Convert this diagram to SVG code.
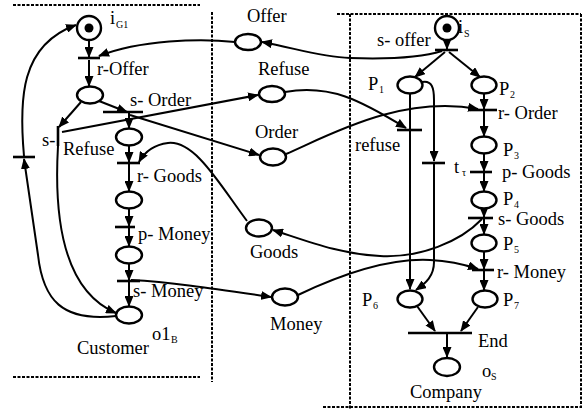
<svg xmlns="http://www.w3.org/2000/svg" width="583" height="410" viewBox="0 0 583 410">
<defs>
<marker id="ah" markerWidth="11" markerHeight="9" refX="10" refY="4.5" orient="auto" markerUnits="userSpaceOnUse"><path d="M0,0 L11,4.5 L0,9 z" fill="#000"/></marker>
<style>
.arc{fill:none;stroke:#000;stroke-width:2}
.arr{marker-end:url(#ah)}
.pl{fill:#fff;stroke:#000;stroke-width:2.4}
.tr{stroke:#000;stroke-width:2.6}
.fr{stroke:#000;stroke-width:2;stroke-dasharray:3 1.5}
text{font-family:"Liberation Serif","Times New Roman",serif;font-size:18.5px;fill:#000}
.sub{font-size:10px}
</style>
</defs>
<rect width="583" height="410" fill="#fff"/>
<g id="frames">
<line class="fr" x1="13" y1="5" x2="200" y2="5"/>
<line class="fr" x1="212" y1="12" x2="212" y2="382"/>
<line class="fr" x1="13" y1="377" x2="200" y2="377"/>
<line class="fr" x1="350" y1="14" x2="350" y2="410"/>
<line class="fr" x1="337" y1="14" x2="581" y2="14"/>
<line class="fr" x1="581" y1="14" x2="581" y2="408"/>
<line class="fr" x1="323" y1="407" x2="581" y2="407"/>
</g>
<g id="connectors">
<path class="arc arr" d="M89 40 L89 57"/>
<path class="arc arr" d="M89 60 L89 86"/>
<path class="arc arr" d="M99 101 L127 112"/>
<path class="arc arr" d="M81 102 L59 127"/>
<path class="arc arr" d="M129 113 L129 128"/>
<path class="arc arr" d="M129 146 L129 162"/>
<path class="arc arr" d="M129 164 L129 191"/>
<path class="arc arr" d="M129 209 L129 226"/>
<path class="arc arr" d="M129 228 L129 246"/>
<path class="arc arr" d="M129 264 L129 280"/>
<path class="arc arr" d="M129 282 L129 306"/>
<path class="arc arr" d="M58 146 C54 215 62 290 116 313"/>
<path class="arc arr" d="M116 316 C62 322 43 300 38 255 L24 159"/>
<path class="arc arr" d="M24 156 C19 100 20 45 76 25"/>
<path class="arc arr" d="M130 115 L259 155"/>
<path class="arc arr" d="M62 132 L258 95"/>
<path class="arc arr" d="M235 42 C200 38 140 40 99 56"/>
<path class="arc arr" d="M247 221 C220 185 195 140 168 143 C152 145 144 153 139 162"/>
<path class="arc arr" d="M131 280 C170 282 210 288 271 297"/>
<path class="arc arr" d="M442 51 C420 58 380 59 350 58 C320 57 295 48 262 42"/>
<path class="arc arr" d="M285 92 C330 84 360 100 406 128"/>
<path class="arc arr" d="M286 154 C330 135 400 95 478 109"/>
<path class="arc arr" d="M482 219 C460 242 420 258 380 256 C340 254 310 242 273 230"/>
<path class="arc arr" d="M298 295 C340 275 390 258 430 260 C452 261 466 265 478 269"/>
<path class="arc arr" d="M447 40 L447 49"/>
<path class="arc arr" d="M445 52 L415 77"/>
<path class="arc arr" d="M449 52 L480 77"/>
<path class="arc" d="M410 94 L410 129"/>
<path class="arc arr" d="M410 131 L410 289"/>
<path class="arc arr" d="M422 82 C432 80 434 88 434 100 L434 161"/>
<path class="arc arr" d="M434 164 L434 262 C434 276 426 283 416 290"/>
<path class="arc arr" d="M484 94 L484 109"/>
<path class="arc arr" d="M484 111 L484 136"/>
<path class="arc arr" d="M484 154 L484 171"/>
<path class="arc arr" d="M484 173 L484 191"/>
<path class="arc arr" d="M484 209 L484 217"/>
<path class="arc arr" d="M484 219 L484 234"/>
<path class="arc arr" d="M484 252 L484 269"/>
<path class="arc arr" d="M484 271 L484 290"/>
<path class="arc arr" d="M417 306 L435 331"/>
<path class="arc arr" d="M478 307 L461 331"/>
<path class="arc arr" d="M447 334 L447 357"/>
</g>
<g id="iG1"><circle class="pl" cx="89" cy="28" r="12"/><circle cx="89" cy="28" r="4.5"/><text x="110" y="24">i</text><text class="sub" x="116" y="28">G1</text></g>
<g id="rOffer"><line class="tr" x1="78" y1="58" x2="100" y2="58"/><text x="97" y="75">r-Offer</text></g>
<g id="pc1"><ellipse class="pl" cx="90" cy="95" rx="13" ry="8.5"/></g>
<g id="sOrder"><line class="tr" x1="103" y1="112" x2="143" y2="112"/><text x="130" y="106">s- Order</text></g>
<g id="sRefuse"><line class="tr" x1="58" y1="126" x2="58" y2="146"/><text x="42" y="146">s-</text><text x="63" y="155">Refuse</text></g>
<g id="tBack"><line class="tr" x1="13" y1="157" x2="35" y2="157"/></g>
<g id="pc2"><ellipse class="pl" cx="129" cy="137" rx="13" ry="8.5"/></g>
<g id="rGoods"><line class="tr" x1="117" y1="163" x2="140" y2="163"/><text x="137" y="182">r- Goods</text></g>
<g id="pc3"><ellipse class="pl" cx="129" cy="200" rx="13" ry="8.5"/></g>
<g id="pMoney"><line class="tr" x1="115" y1="227" x2="135" y2="227"/><text x="138" y="240">p- Money</text></g>
<g id="pc4"><ellipse class="pl" cx="129" cy="255" rx="13" ry="8.5"/></g>
<g id="sMoney"><line class="tr" x1="117" y1="281" x2="140" y2="281"/><text x="133" y="297">s- Money</text></g>
<g id="o1B"><ellipse class="pl" cx="129" cy="315" rx="13" ry="8.5"/><text x="152" y="340">o1</text><text class="sub" x="171" y="343">B</text><text x="77" y="354">Customer</text></g>
<g id="Offer"><ellipse class="pl" cx="248" cy="42" rx="13" ry="8"/><text x="247" y="22">Offer</text></g>
<g id="Refuse"><ellipse class="pl" cx="272" cy="94" rx="13" ry="8"/><text x="258" y="75">Refuse</text></g>
<g id="Order"><ellipse class="pl" cx="273" cy="157" rx="13" ry="8.5"/><text x="255" y="138">Order</text></g>
<g id="Goods"><ellipse class="pl" cx="259" cy="228" rx="13" ry="8.5"/><text x="250" y="258">Goods</text></g>
<g id="Money"><ellipse class="pl" cx="285" cy="297" rx="13" ry="8.5"/><text x="270" y="330">Money</text></g>
<g id="iS"><circle class="pl" cx="447" cy="28" r="12"/><circle cx="447" cy="28" r="4.5"/><text x="458" y="33">i</text><text class="sub" x="464" y="37">S</text></g>
<g id="sOffer"><line class="tr" x1="435" y1="50" x2="458" y2="50"/><text x="377" y="46">s- offer</text></g>
<g id="P1"><ellipse class="pl" cx="410" cy="85" rx="12.5" ry="8.5"/><text x="368" y="90">P</text><text class="sub" x="379" y="93">1</text></g>
<g id="P2"><ellipse class="pl" cx="484" cy="85" rx="12.5" ry="8.5"/><text x="499" y="95">P</text><text class="sub" x="510" y="98">2</text></g>
<g id="rOrder"><line class="tr" x1="470" y1="110" x2="497" y2="110"/><text x="498" y="119">r- Order</text></g>
<g id="refuse"><line class="tr" x1="397" y1="130" x2="422" y2="130"/><text x="355" y="151">refuse</text></g>
<g id="P3"><ellipse class="pl" cx="484" cy="145" rx="12.5" ry="8.5"/><text x="503" y="156">P</text><text class="sub" x="514" y="159">3</text></g>
<g id="tTau"><line class="tr" x1="422" y1="163" x2="445" y2="163"/><text x="454" y="173">t</text><text class="sub" x="462" y="176">τ</text></g>
<g id="pGoods"><line class="tr" x1="470" y1="172" x2="492" y2="172"/><text x="502" y="178">p- Goods</text></g>
<g id="P4"><ellipse class="pl" cx="484" cy="200" rx="12.5" ry="8.5"/><text x="503" y="205">P</text><text class="sub" x="514" y="208">4</text></g>
<g id="sGoods"><line class="tr" x1="468" y1="218" x2="493" y2="218"/><text x="498" y="225">s- Goods</text></g>
<g id="P5"><ellipse class="pl" cx="484" cy="243" rx="12.5" ry="8.5"/><text x="503" y="250">P</text><text class="sub" x="514" y="253">5</text></g>
<g id="rMoney"><line class="tr" x1="472" y1="270" x2="494" y2="270"/><text x="497" y="278">r- Money</text></g>
<g id="P6"><ellipse class="pl" cx="410" cy="299" rx="12.5" ry="8.5"/><text x="362" y="306">P</text><text class="sub" x="373" y="309">6</text></g>
<g id="P7"><ellipse class="pl" cx="485" cy="299" rx="12.5" ry="8.5"/><text x="503" y="306">P</text><text class="sub" x="514" y="309">7</text></g>
<g id="End"><line class="tr" x1="408" y1="333" x2="472" y2="333"/><text x="478" y="347">End</text></g>
<g id="oS"><ellipse class="pl" cx="447" cy="367" rx="13" ry="9"/><text x="482" y="377">o</text><text class="sub" x="491" y="380">S</text><text x="410" y="398">Company</text></g>
</svg>
